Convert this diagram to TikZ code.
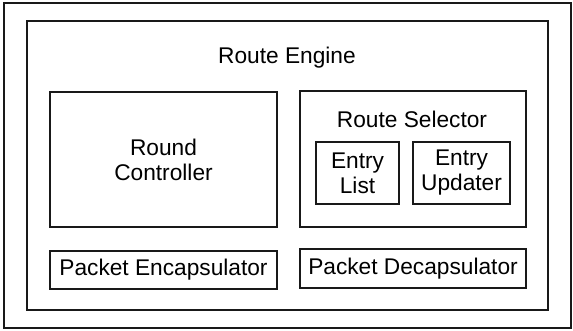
\documentclass[tikz,border=0pt]{standalone}
\usepackage{fontspec}
\setmainfont{Liberation Sans}
\begin{document}
\begin{tikzpicture}[x=1pt,y=-1pt,
  blk/.style={draw=black!90, line width=1.3pt, inner sep=0pt, outer sep=0pt,
    minimum width=#1},
  lbl/.style={font=\fontsize{22.7}{25}\selectfont, align=center, inner sep=0pt}]
  \useasboundingbox (0,0) rectangle (573,330);
  % outer frame and the engine enclosure
  \node[blk=567pt, minimum height=325pt] (frame) at (287.5,165.5) {};
  \node[blk=521pt, minimum height=289pt] (engine) at (287.5,165.5) {};
  \node[lbl, anchor=base] (enginetitle) at (287,63) {Route Engine};
  % round controller
  \node[blk=227pt, minimum height=135pt, lbl] (roundctl) at (163.5,159.5) {Round\\Controller};
  % route selector with its two parts
  \node[blk=226pt, minimum height=136pt] (selector) at (413,159) {};
  \node[lbl, anchor=base] (selectortitle) at (412,127) {Route Selector};
  \node[blk=83pt, minimum height=62pt, lbl] (entrylist) at (357.5,173) {Entry\\List};
  \node[blk=97pt, minimum height=62pt, lbl] (entryupd) at (461.5,173) {Entry\\Updater};
  % packet handlers
  \node[blk=227pt, minimum height=38pt, lbl] (encap) at (163.5,270) {Packet Encapsulator};
  \node[blk=226pt, minimum height=39pt, lbl] (decap) at (413,268.5) {Packet Decapsulator};
\end{tikzpicture}
\end{document}
